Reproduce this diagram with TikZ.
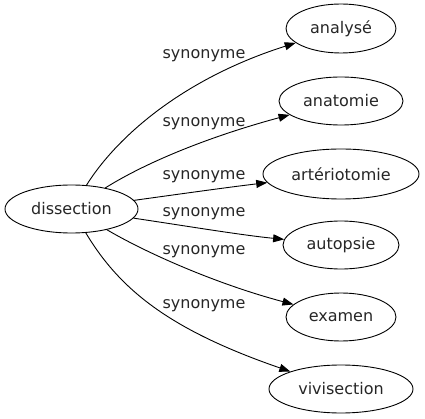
\documentclass[tikz,border=0pt]{standalone}
\usepackage{fontspec}
\setmainfont{DejaVu Sans}
\usetikzlibrary{shapes.geometric,arrows.meta}
\begin{document}
\begin{tikzpicture}[x=1pt,y=-1pt,
  every node/.style={font=\fontsize{16}{19}\selectfont, text=black!85},
  term/.style={draw, ellipse, line width=0.9pt, inner sep=0pt},
  rel/.style={},
  edge/.style={draw, line width=0.9pt, -{Triangle[length=11pt,width=8pt]}}]
\useasboundingbox (0,0) rectangle (425,419);
\node[term, minimum width=133, minimum height=48] (dis) at (71.5,209) {dissection};
\node[term, minimum width=110, minimum height=49] (n1) at (341,28.5) {analysé};
\node[term, minimum width=124, minimum height=48] (n2) at (341,101) {anatomie};
\node[term, minimum width=156, minimum height=50] (n3) at (341,174) {artériotomie};
\node[term, minimum width=116, minimum height=48] (n4) at (341,245) {autopsie};
\node[term, minimum width=110, minimum height=48] (n5) at (341,317) {examen};
\node[term, minimum width=144, minimum height=48] (n6) at (341,389) {vivisection};
\node[rel] (l1) at (204,56) {synonyme};
\node[rel] (l2) at (204,124) {synonyme};
\node[rel] (l3) at (204,177) {synonyme};
\node[rel] (l4) at (204,214) {synonyme};
\node[rel] (l5) at (204,252) {synonyme};
\node[rel] (l6) at (204,306) {synonyme};
\draw[edge] (dis) .. controls (118,135) and (185,78) .. (n1);
\draw[edge] (dis) .. controls (150,160) and (215,135) .. (n2);
\draw[edge] (dis) .. controls (180,194) and (230,187) .. (n3);
\draw[edge] (dis) .. controls (180,225) and (240,235) .. (n4);
\draw[edge] (dis) .. controls (150,255) and (220,285) .. (n5);
\draw[edge] (dis) .. controls (120,290) and (170,330) .. (n6);
\end{tikzpicture}
\end{document}
